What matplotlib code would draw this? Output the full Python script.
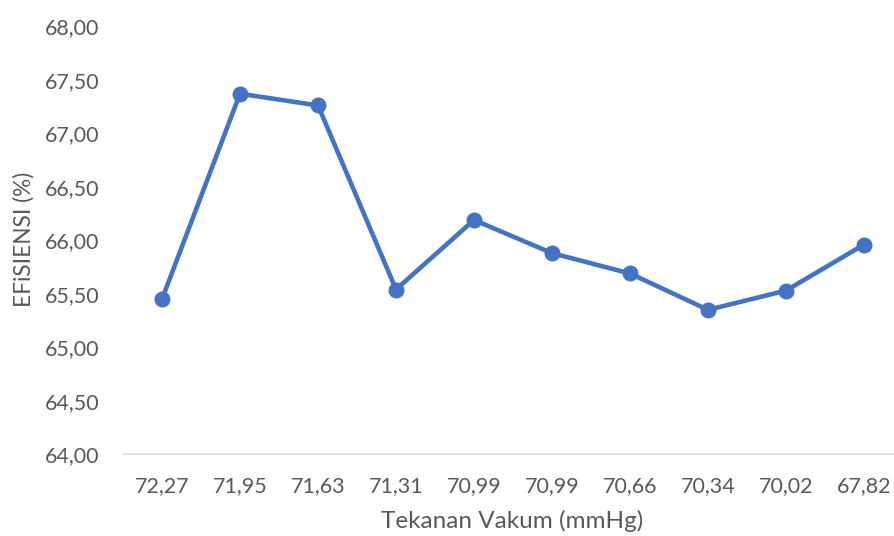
import matplotlib
matplotlib.use("Agg")
import matplotlib.pyplot as plt
from matplotlib.ticker import FuncFormatter

# --- Data ---
tekanan = ["72,27", "71,95", "71,63", "71,31", "70,99", "70,99", "70,66", "70,34", "70,02", "67,82"]
efisiensi = [65.45, 67.37, 67.26, 65.54, 66.19, 65.88, 65.69, 65.35, 65.53, 65.96]
y_ticks = [64.0, 64.5, 65.0, 65.5, 66.0, 66.5, 67.0, 67.5, 68.0]

text_color = "#595959"
line_color = "#4472C4"
plt.rcParams["font.family"] = ["Lato", "DejaVu Sans"]

fig = plt.figure(figsize=(8.95, 5.36), dpi=100)
ax = fig.add_axes([123 / 895, 81.7 / 536, 780 / 895, 428 / 536])

x = list(range(len(tekanan)))
ax.plot(x, efisiensi, color=line_color, linewidth=3.3, marker="o",
        markersize=10.5, solid_capstyle="round", solid_joinstyle="round")

ax.set_xlim(-0.5, len(tekanan) - 0.5)
ax.set_ylim(64, 68)
ax.set_yticks(y_ticks)
ax.yaxis.set_major_formatter(FuncFormatter(lambda v, p: f"{v:.2f}".replace(".", ",")))
ax.set_xticks(x)
ax.set_xticklabels(tekanan)

for s in ["top", "right", "left"]:
    ax.spines[s].set_visible(False)
ax.spines["bottom"].set_color("#D9D9D9")
ax.spines["bottom"].set_linewidth(1.2)
ax.tick_params(axis="both", length=0, labelsize=15.5, colors=text_color)
ax.tick_params(axis="y", pad=17)
ax.tick_params(axis="x", pad=16)

fig.text(24 / 895, 1 - 239 / 536, "EFiSIENSI (%)", rotation=90, ha="center", va="center",
         fontsize=16.3, color=text_color)
fig.text(512 / 895, 1 - 528 / 536, "Tekanan Vakum (mmHg)", ha="center", va="baseline",
         fontsize=17.5, color=text_color)

fig.savefig("out.png", dpi=100)
